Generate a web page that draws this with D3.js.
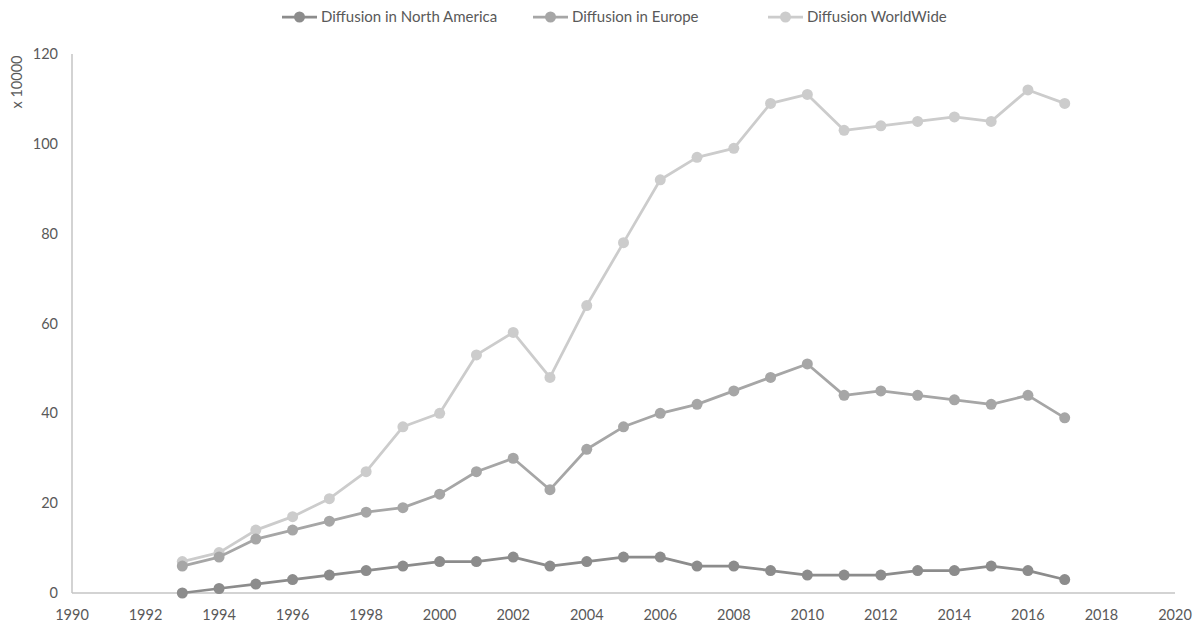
<!DOCTYPE html>
<html><head><meta charset="utf-8">
<script src="https://cdn.jsdelivr.net/npm/d3@7"></script>
<style>body{margin:0;background:#fff}svg{display:block}</style>
</head><body><svg id="c" width="1200" height="626"></svg>
<script>
const years = [1993,1994,1995,1996,1997,1998,1999,2000,2001,2002,2003,2004,2005,2006,2007,2008,2009,2010,2011,2012,2013,2014,2015,2016,2017];
const northAmerica = [0,1,2,3,4,5,6,7,7,8,6,7,8,8,6,6,5,4,4,4,5,5,6,5,3];
const europe = [6,8,12,14,16,18,19,22,27,30,23,32,37,40,42,45,48,51,44,45,44,43,42,44,39];
const worldwide = [7,9,14,17,21,27,37,40,53,58,48,64,78,92,97,99,109,111,103,104,105,106,105,112,109];
const seriesNames = ["Diffusion in North America","Diffusion in Europe","Diffusion WorldWide"];
const xTicks = [1990,1992,1994,1996,1998,2000,2002,2004,2006,2008,2010,2012,2014,2016,2018,2020];
const yTicks = [0,20,40,60,80,100,120];
const yUnit = "x 10000";

const colors = ["#8c8c8c","#a6a6a6","#cccccc"];
const font = "Lato, Open Sans, sans-serif";
const fs = 14.5;
const svg = d3.select("#c");
const x = d3.scaleLinear().domain([1990,2020]).range([72,1175]);
const y = d3.scaleLinear().domain([0,120]).range([593,54]);

svg.append("line").attr("x1",x(1990)).attr("x2",x(2020)).attr("y1",y(0)).attr("y2",y(0)).attr("stroke","#c4c4c4").attr("stroke-width",1.5);
svg.append("line").attr("x1",x(1990)).attr("x2",x(1990)).attr("y1",y(0)).attr("y2",y(120)).attr("stroke","#c4c4c4").attr("stroke-width",1.5);

svg.append("g").selectAll("text").data(yTicks).join("text")
  .attr("x",58).attr("y",d=>y(d)).attr("dy","0.35em").attr("text-anchor","end")
  .attr("font-family",font).attr("font-size",fs).attr("fill","#595959").text(d=>d);
svg.append("g").selectAll("text").data(xTicks).join("text")
  .attr("x",d=>x(d)).attr("y",615).attr("dy","0.35em").attr("text-anchor","middle")
  .attr("font-family",font).attr("font-size",fs).attr("fill","#595959").text(d=>d);
svg.append("text").attr("transform","translate(22,82) rotate(-90)").attr("text-anchor","middle")
  .attr("font-family",font).attr("font-size",fs).attr("fill","#595959").text(yUnit);

const all = [northAmerica, europe, worldwide];
const line = d3.line().x((d,i)=>x(years[i])).y(d=>y(d));
[2,1,0].forEach(k=>{
  const g = svg.append("g");
  g.append("path").attr("d",line(all[k])).attr("fill","none").attr("stroke",colors[k]).attr("stroke-width",2.75).attr("stroke-linejoin","round");
  g.selectAll("circle").data(all[k]).join("circle").attr("cx",(d,i)=>x(years[i])).attr("cy",d=>y(d)).attr("r",5.5).attr("fill",colors[k]);
});

const legX = [282,533,768];
seriesNames.forEach((n,k)=>{
  const g = svg.append("g");
  g.append("line").attr("x1",legX[k]).attr("x2",legX[k]+35).attr("y1",17).attr("y2",17).attr("stroke",colors[k]).attr("stroke-width",2.75);
  g.append("circle").attr("cx",legX[k]+17.5).attr("cy",17).attr("r",5.5).attr("fill",colors[k]);
  g.append("text").attr("x",legX[k]+39).attr("y",17).attr("dy","0.35em").attr("font-family",font).attr("font-size",15).attr("fill","#595959").text(n);
});
</script></body></html>
